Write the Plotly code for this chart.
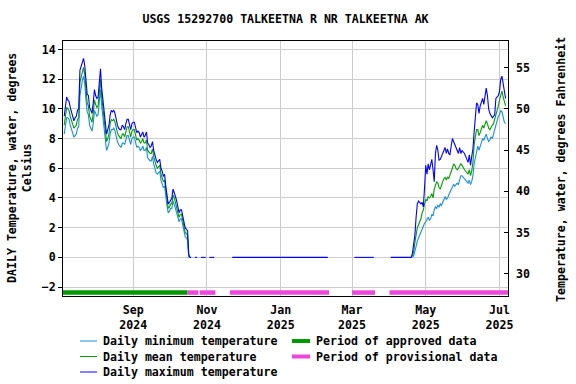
import plotly.graph_objects as go
import pandas as pd

# ---------------- data ----------------
summer_start = "2024-07-06"
summer_max = [9.5, 10.2, 10.8, 10.6, 10.5, 10.1, 9.8, 9.4, 9.2, 9.4,
              9.5, 9.9, 10.0, 12.6, 12.9, 13.1, 13.4, 12.9, 11.8, 11.0,
              10.9, 10.1, 9.9, 9.7, 10.4, 11.3, 10.9, 10.7, 10.8, 12.0,
              12.7, 11.4, 10.6, 9.7, 8.8, 8.3, 8.6, 8.9, 9.6, 9.9,
              9.8, 9.9, 9.7, 9.2, 8.9, 8.7, 8.6, 8.6, 8.9, 8.8,
              8.6, 9.0, 9.3, 9.3, 8.9, 8.6, 9.0, 9.1, 9.1, 8.7,
              8.4, 8.5, 8.4, 8.1, 8.3, 8.45, 8.1, 8.2, 8.45, 7.7,
              7.6, 7.4, 7.5, 7.8, 7.2, 6.8, 6.6, 6.4, 6.5, 6.6,
              6.0, 5.8, 5.45, 5.6, 4.8, 4.3, 3.6, 3.7, 3.9, 4.0,
              4.6, 4.4, 4.1, 3.8, 3.4, 3.0, 3.2, 3.2, 2.8, 2.4,
              2.0, 1.9, 1.8, 0.2]
summer_mean = [8.9, 9.5, 10.1, 10.0, 9.9, 9.5, 9.2, 8.9, 8.7, 8.8,
               8.9, 9.3, 9.4, 11.8, 12.2, 12.5, 12.8, 12.3, 11.2, 10.4,
               10.2, 9.5, 9.3, 9.1, 9.7, 10.6, 10.3, 10.1, 10.2, 11.3,
               12.0, 10.8, 10.0, 9.1, 8.3, 7.8, 8.0, 8.3, 9.0, 9.3,
               9.2, 9.3, 9.1, 8.7, 8.4, 8.2, 8.1, 8.0, 8.3, 8.3,
               8.1, 8.5, 8.8, 8.8, 8.4, 8.1, 8.5, 8.6, 8.6, 8.2,
               7.9, 8.0, 7.9, 7.7, 7.8, 8.0, 7.7, 7.7, 7.9, 7.2,
               7.1, 7.0, 7.0, 7.3, 6.8, 6.4, 6.2, 6.0, 6.1, 6.2,
               5.6, 5.4, 5.1, 5.2, 4.4, 3.9, 3.3, 3.4, 3.6, 3.6,
               4.2, 4.0, 3.7, 3.4, 3.1, 2.7, 2.9, 2.9, 2.5, 2.1,
               1.7, 1.6, 1.5, 0.1]
summer_min = [8.3, 8.8, 9.4, 9.4, 9.3, 8.9, 8.6, 8.3, 8.1, 8.2,
              8.3, 8.7, 8.8, 10.9, 11.5, 11.9, 12.2, 11.7, 10.6, 9.8,
              9.6, 8.9, 8.7, 8.5, 9.0, 9.9, 9.7, 9.5, 9.6, 10.6,
              11.3, 10.2, 9.4, 8.5, 7.7, 7.2, 7.4, 7.7, 8.3, 8.6,
              8.6, 8.7, 8.5, 8.1, 7.8, 7.6, 7.5, 7.4, 7.7, 7.7,
              7.6, 7.9, 8.2, 8.2, 7.9, 7.6, 8.0, 8.1, 8.1, 7.7,
              7.4, 7.5, 7.4, 7.2, 7.3, 7.5, 7.2, 7.2, 7.4, 6.7,
              6.6, 6.5, 6.5, 6.8, 6.3, 5.9, 5.7, 5.6, 5.7, 5.8,
              5.2, 5.0, 4.7, 4.8, 4.0, 3.5, 3.0, 3.1, 3.3, 3.3,
              3.8, 3.6, 3.3, 3.0, 2.7, 2.4, 2.6, 2.6, 2.2, 1.8,
              1.4, 1.3, 1.2, 0.0]

spring_start = "2025-04-20"
spring_max = [0.3, 0.8, 1.5, 2.7, 3.6, 3.8, 3.7, 3.6, 3.7, 3.4, 4.7,
              6.2, 5.6, 6.3, 5.9, 6.4, 6.6, 5.9, 5.1, 7.0, 7.55,
              7.2, 6.55, 6.6, 6.8, 6.9, 7.2, 7.4, 7.0, 7.3, 7.0,
              6.9, 7.5, 8.0, 7.8, 7.6, 7.3, 7.1, 7.0, 7.4, 7.0, 7.2,
              7.1, 7.0, 6.8, 6.6, 6.4, 6.9, 6.2, 6.8, 7.3, 8.45,
              9.35, 10.4, 10.3, 9.7, 10.2, 10.5, 10.7, 10.3, 10.95, 11.4,
              10.9, 10.0, 9.7, 9.5, 9.4, 9.5, 9.6, 10.7, 10.8, 10.9,
              11.2, 12.0, 12.2, 11.7, 11.0, 10.7]
spring_mean = [0.1, 0.4, 1.0, 1.6, 2.0, 2.2, 2.4, 2.6, 3.0, 3.2, 3.6,
               3.9, 3.8, 4.1, 4.0, 4.1, 4.3, 4.0, 4.6, 4.8, 5.1,
               5.0, 4.7, 4.6, 4.9, 5.1, 5.3, 5.4, 5.2, 5.4, 5.3,
               5.5, 5.7, 6.0, 6.3, 6.2, 6.0, 5.9, 6.0, 6.2, 6.3, 6.2,
               6.0, 5.9, 5.8, 5.7, 5.6, 5.9, 5.5, 5.8, 6.4, 7.6,
               8.1, 8.6, 8.6, 8.2, 8.4, 8.7, 8.9, 8.7, 9.0, 9.2,
               9.0, 8.7, 8.6, 8.8, 8.9, 9.0, 9.3, 9.6, 9.8, 10.2,
               10.6, 11.0, 11.2, 10.8, 10.4, 10.2]
spring_min = [0.0, 0.1, 0.4, 0.8, 1.1, 1.3, 1.5, 1.8, 1.9, 2.1, 2.3,
              2.4, 2.6, 2.7, 2.5, 2.6, 2.9, 2.8, 3.2, 3.4, 3.3,
              3.5, 3.4, 3.6, 3.5, 3.7, 4.0, 4.1, 3.9, 4.0, 4.2,
              4.4, 4.6, 4.7, 4.9, 4.8, 4.9, 5.0, 4.9, 5.3, 5.5, 5.5,
              5.4, 5.3, 5.2, 5.1, 5.0, 5.2, 4.9, 5.1, 5.5, 6.3,
              6.8, 7.3, 7.5, 7.2, 7.5, 7.8, 8.0, 7.9, 8.1, 8.3,
              8.0, 7.8, 7.9, 8.1, 8.0, 8.3, 8.6, 8.9, 9.1, 9.5,
              9.6, 9.9, 9.8, 9.3, 9.1, 9.0]

# periods where the plotted daily maximum sits at 0 (ice-affected);
# the min/mean lines there are hidden beneath it in the reference
zero_periods = [("2024-10-18", "2024-10-19"), ("2024-10-22", "2024-10-24"),
                ("2024-10-27", "2024-10-31"), ("2024-11-03", "2024-11-07"),
                ("2024-11-22", "2025-02-09"), ("2025-03-03", "2025-03-19"),
                ("2025-04-02", "2025-04-19")]

approved_periods = [("2024-07-05", "2024-10-16")]
provisional_periods = [("2024-10-16", "2024-10-25"), ("2024-10-26", "2024-11-08"),
                       ("2024-11-20", "2025-02-10"), ("2025-03-01", "2025-03-20"),
                       ("2025-04-01", "2025-07-08")]
period_bar_level = -2.37

tick_dates = ["2024-09-01", "2024-11-01", "2025-01-01", "2025-03-01", "2025-05-01", "2025-07-01"]
tick_labels = ["Sep<br>2024", "Nov<br>2024", "Jan<br>2025", "Mar<br>2025", "May<br>2025", "Jul<br>2025"]
x_range = ["2024-07-05", "2025-07-08"]
y_range_c = [-2.6, 14.57]
c_ticks = [-2, 0, 2, 4, 6, 8, 10, 12, 14]
f_ticks = [30, 35, 40, 45, 50, 55]

title = "USGS 15292700 TALKEETNA R NR TALKEETNA AK"
colors = {"min": "#1a8fd8", "mean": "#009e00", "max": "#0000ff",
          "approved": "#009900", "provisional": "#ee46dc"}

# ---------------- build daily series ----------------
full_idx = pd.date_range("2024-07-06", "2025-07-06", freq="D")


def build(summer, spring, with_zero):
    s = pd.Series([None] * len(full_idx), index=full_idx, dtype="object")
    s.loc[pd.date_range(summer_start, periods=len(summer), freq="D")] = summer
    s.loc[pd.date_range(spring_start, periods=len(spring), freq="D")] = spring
    if with_zero:
        for a, b in zero_periods:
            s.loc[pd.Timestamp(a):pd.Timestamp(b)] = 0.0
    return [None if v is None else float(v) for v in s.values]


series = {
    "min": build(summer_min, spring_min, False),
    "mean": build(summer_mean, spring_mean, False),
    "max": build(summer_max, spring_max, True),
}

FONT = "DejaVu Sans Mono"
FS = 11.6

fig = go.Figure()
for key in ["min", "mean", "max"]:
    fig.add_trace(go.Scatter(x=full_idx, y=series[key], mode="lines",
                             line=dict(color=colors[key], width=1.1),
                             connectgaps=False, showlegend=False, hoverinfo="skip"))


def period_trace(periods, color):
    xs, ys = [], []
    for a, b in periods:
        xs += [a, b, None]
        ys += [period_bar_level, period_bar_level, None]
    return go.Scatter(x=xs, y=ys, mode="lines", line=dict(color=color, width=4.5),
                      showlegend=False, hoverinfo="skip")


fig.add_trace(period_trace(approved_periods, colors["approved"]))
fig.add_trace(period_trace(provisional_periods, colors["provisional"]))

# invisible trace on the Fahrenheit axis so that it is drawn
fig.add_trace(go.Scatter(x=[x_range[0]], y=[f_ticks[0]], yaxis="y2", mode="markers",
                         marker=dict(opacity=0), showlegend=False, hoverinfo="skip"))

L, R, T, B = 63, 68, 41, 88
W, H = 576, 384
PW, PH = W - L - R, H - T - B


def px(x):
    return (x - L) / PW


def py(y):
    return (H - B - y) / PH


fig.update_layout(
    width=W, height=H, margin=dict(l=L, r=R, t=T, b=B, autoexpand=False),
    paper_bgcolor="white", plot_bgcolor="white",
    font=dict(family=FONT, size=FS, color="black", weight="bold"),
    title=dict(text=title, x=0.5, xref="paper", y=1 - 19 / H, yref="container",
               xanchor="center", yanchor="middle",
               font=dict(family=FONT, size=FS, color="black", weight="bold")),
    xaxis=dict(type="date", range=x_range, tickvals=tick_dates, ticktext=tick_labels,
               showgrid=True, gridcolor="#cccccc", gridwidth=1,
               showline=True, linecolor="black", linewidth=1, mirror=True,
               ticks="", ticklabelstandoff=3, zeroline=False,
               tickfont=dict(family=FONT, size=FS, weight="bold")),
    yaxis=dict(range=y_range_c, tickvals=c_ticks, showgrid=True, gridcolor="#cccccc",
               gridwidth=1, showline=True, linecolor="black", linewidth=1, mirror=True,
               ticks="outside", ticklen=4, tickcolor="black", zeroline=False,
               tickfont=dict(family=FONT, size=FS, weight="bold")),
    yaxis2=dict(overlaying="y", side="right",
                range=[y_range_c[0] * 1.8 + 32, y_range_c[1] * 1.8 + 32],
                tickvals=f_ticks, showgrid=False, zeroline=False, showline=False,
                ticks="inside", ticklen=4, tickcolor="black", ticklabelstandoff=7,
                tickfont=dict(family=FONT, size=FS, weight="bold")),
    showlegend=False,
)

annotations = [
    dict(text="DAILY Temperature, water, degrees<br>Celsius", textangle=-90,
         x=px(19), y=py(168), xref="paper", yref="paper", showarrow=False,
         xanchor="center", yanchor="middle"),
    dict(text="Temperature, water, degrees Fahrenheit", textangle=-90,
         x=px(561), y=py(170), xref="paper", yref="paper", showarrow=False,
         xanchor="center", yanchor="middle"),
]

legend_items = [
    ("Daily minimum temperature", colors["min"], 80, 97, 341, 1),
    ("Daily mean temperature", colors["mean"], 80, 97, 356.5, 1),
    ("Daily maximum temperature", colors["max"], 80, 97, 372, 1),
    ("Period of approved data", colors["approved"], 292, 310, 341, 4),
    ("Period of provisional data", colors["provisional"], 292, 310, 356.5, 4),
]
shapes = []
for text, col, x0, x1, yy, w in legend_items:
    shapes.append(dict(type="line", xref="paper", yref="paper", x0=px(x0), x1=px(x1),
                       y0=py(yy), y1=py(yy), line=dict(color=col, width=w)))
    annotations.append(dict(text=text, x=px(x1 + 4), y=py(yy), xref="paper", yref="paper",
                            showarrow=False, xanchor="left", yanchor="middle"))

fig.update_layout(annotations=annotations, shapes=shapes)
fig.write_html(
    "out.html",
    config={"displayModeBar": False, "staticPlot": True},
    post_script="document.body.style.margin='0';document.body.style.overflow='hidden';",
)
